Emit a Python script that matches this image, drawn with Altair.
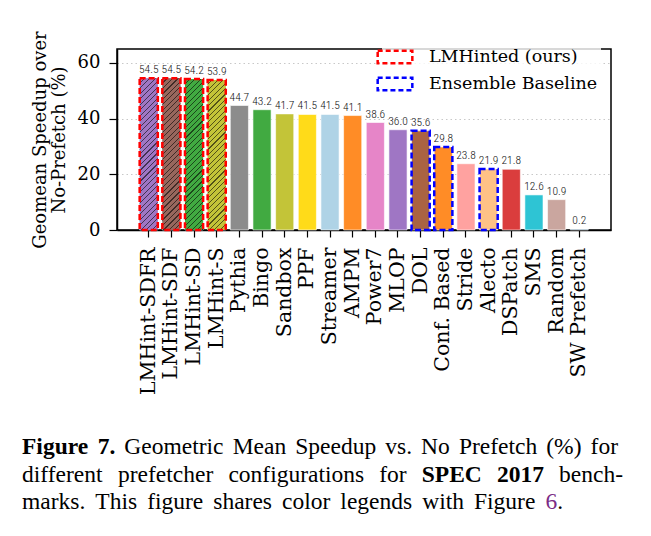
import altair as alt
import pandas as pd

categories = ["LMHint-SDFR", "LMHint-SDF", "LMHint-SD", "LMHint-S", "Pythia", "Bingo",
              "Sandbox", "PPF", "Streamer", "AMPM", "Power7", "MLOP", "DOL",
              "Conf. Based", "Stride", "Alecto", "DSPatch", "SMS", "Random", "SW Prefetch"]
values = [54.5, 54.5, 54.2, 53.9, 44.7, 43.2, 41.7, 41.5, 41.5, 41.1, 38.6, 36.0, 35.6,
          29.8, 23.8, 21.9, 21.8, 12.6, 10.9, 0.2]
base_colors = ["#9467bd", "#8c564b", "#2ca02c", "#bcbd22", "#7f7f7f", "#2ca02c",
               "#bcbd22", "#ffd700", "#a6cee3", "#ff7f0e", "#e377c2", "#9467bd", "#a0522d",
               "#ff7f0e", "#ff9896", "#ffbb78", "#d62728", "#17becf", "#c49c94", "#1f77b4"]
groups = ["LMHinted (ours)"] * 4 + [""] * 8 + ["Ensemble Baseline", "Ensemble Baseline", "", "Ensemble Baseline", "", "", "", ""]
hatched = ["LMHint-SDFR", "LMHint-SDF", "LMHint-SD", "LMHint-S"]
legend_labels = ["LMHinted (ours)", "Ensemble Baseline"]
legend_colors = ["#ff0000", "#0000ff"]
y_ticks = [0, 20, 40, 60]

# caption lines: list of (word, weight, colour); "+" prefix means glued to previous word
caption_lines = [
    [("Figure", "bold", "black"), ("7.", "bold", "black"), ("Geometric", "normal", "black"),
     ("Mean", "normal", "black"), ("Speedup", "normal", "black"), ("vs.", "normal", "black"),
     ("No", "normal", "black"), ("Prefetch", "normal", "black"), ("(%)", "normal", "black"),
     ("for", "normal", "black")],
    [("different", "normal", "black"), ("prefetcher", "normal", "black"),
     ("configurations", "normal", "black"), ("for", "normal", "black"),
     ("SPEC", "bold", "black"), ("2017", "bold", "black"), ("bench-", "normal", "black")],
    [("marks.", "normal", "black"), ("This", "normal", "black"), ("figure", "normal", "black"),
     ("shares", "normal", "black"), ("color", "normal", "black"), ("legends", "normal", "black"),
     ("with", "normal", "black"), ("Figure", "normal", "black"), ("6", "normal", "#7b2c86"),
     ("+.", "normal", "black")],
]


def blend(hexcol, alpha=0.9, bg=(255, 255, 255)):
    h = hexcol.lstrip("#")
    rgb = [int(h[i:i + 2], 16) for i in (0, 2, 4)]
    out = [round(alpha * c + (1 - alpha) * b) for c, b in zip(rgb, bg)]
    return "#" + "".join(f"{c:02x}" for c in out)


def darken(hexcol, f=0.45):
    h = hexcol.lstrip("#")
    rgb = [int(h[i:i + 2], 16) for i in (0, 2, 4)]
    return "#" + "".join(f"{round(c * f):02x}" for c in rgb)


# Times metrics (per 1000 em) for justified caption layout
_reg = {"a": 444, "b": 500, "c": 444, "d": 500, "e": 444, "f": 333, "g": 500, "h": 500, "i": 278,
        "j": 278, "k": 500, "l": 278, "m": 778, "n": 500, "o": 500, "p": 500, "q": 500, "r": 333,
        "s": 389, "t": 278, "u": 500, "v": 500, "w": 722, "x": 500, "y": 500, "z": 444,
        "F": 556, "G": 722, "M": 889, "N": 722, "P": 556, "T": 611, "S": 556, "E": 611, "C": 667,
        ".": 250, "(": 333, ")": 333, "%": 833, "-": 333}
_bold = {"F": 611, "i": 278, "g": 500, "u": 556, "r": 444, "e": 444, ".": 250, "S": 556,
         "P": 611, "E": 667, "C": 722}


def text_width(word, weight, size):
    table = _bold if weight == "bold" else _reg
    return sum(table.get(ch, 500) for ch in word) * size / 1000.0


colors = [blend(c) for c in base_colors]

W, H = 494, 181
YMAX = 65.0
LEFT, TOP = 117, 49

df = pd.DataFrame({"cat": categories, "val": values, "grp": groups,
                   "label": [f"{v:.1f}" for v in values]})

xenc = alt.X("cat:N", sort=categories,
             scale=alt.Scale(domain=categories, paddingInner=0.2, paddingOuter=1.0, align=0.5),
             axis=alt.Axis(title=None, labelAngle=-90, labelAlign="right", labelBaseline="middle",
                           labelFont="DejaVu Serif", labelFontSize=20.5, labelColor="black",
                           labelPadding=10, tickColor="black", tickSize=7, tickWidth=1.2,
                           domainColor="black", domainWidth=1.5, grid=False))
yscale = alt.Scale(domain=[0, YMAX], nice=False, zero=True)
yenc = alt.Y("val:Q", scale=yscale,
             axis=alt.Axis(values=y_ticks, title=["Geomean Speedup over", "No-Prefetch (%)"],
                           titleFont="DejaVu Serif", titleFontSize=18, titleFontWeight="normal",
                           titleColor="black", titleX=-68, titleY=H / 2, titleLineHeight=19,
                           labelFont="DejaVu Serif", labelFontSize=18, labelColor="black",
                           labelPadding=9, tickColor="black", tickSize=8, tickWidth=1.2,
                           domainColor="black", domainWidth=1.5,
                           grid=True, gridColor="#c8c8c8", gridDash=[1.5, 3], gridWidth=1))

base = alt.Chart(df).encode(x=xenc)

bars = base.mark_bar(stroke="white", strokeWidth=0.6).encode(
    y=yenc,
    color=alt.Color("cat:N", scale=alt.Scale(domain=categories, range=colors), legend=None),
)

layers = [bars]

# hatched overlays using linear gradients
px_per_unit = H / YMAX
bw = W / (20 - 0.2 + 2.0) * 0.8
for cat in hatched:
    i = categories.index(cat)
    h = values[i] * px_per_unit
    w = bw
    a0, b0 = 1 / h, 1 / w
    s = (a0 + b0) / (a0 * a0 + b0 * b0)
    x2, y2 = s * a0, s * b0
    n_lines = int(round((w + h) / 5.5))
    lw = 0.8 / (w + h) * 1.4142
    basec = colors[i]
    dark = darken(basec, 0.42)
    stops = []
    for k in range(n_lines):
        t0 = k / n_lines
        t1 = (k + 1) / n_lines
        stops += [{"offset": t0, "color": basec},
                  {"offset": max(t0, t1 - lw), "color": basec},
                  {"offset": max(t0, t1 - lw), "color": dark},
                  {"offset": t1, "color": dark}]
    grad = {"gradient": "linear", "x1": 0, "y1": 0, "x2": x2, "y2": y2, "stops": stops}
    layers.append(
        base.mark_bar(fill=grad, stroke=None).encode(y=alt.Y("val:Q", scale=yscale))
        .transform_filter(alt.datum.cat == cat)
    )

outline = base.mark_bar(filled=False, strokeWidth=2.5, strokeDash=[6, 3]).encode(
    y=alt.Y("val:Q", scale=yscale),
    stroke=alt.Stroke("grp:N", scale=alt.Scale(domain=legend_labels, range=legend_colors),
                      legend=alt.Legend(title=None, orient="none", legendX=265, legendY=-5,
                                        symbolType="M-2,-0.72H2V0.72H-2Z", symbolSize=300,
                                        symbolStrokeWidth=2.5, symbolDash=[5, 3],
                                        symbolFillColor="transparent", labelFont="DejaVu Serif",
                                        labelFontSize=17.5, labelColor="black", labelOffset=24,
                                        labelLimit=400, rowPadding=3, padding=3,
                                        fillColor="rgba(255,255,255,0.8)")),
).transform_filter(alt.datum.grp != "")
layers.append(outline)

texts = base.mark_text(baseline="bottom", dy=-3,
                       font="'Roboto Condensed', 'DejaVu Sans Condensed', Roboto",
                       fontSize=11.5, fontWeight=300,
                       color="#111111").encode(y=alt.Y("val:Q", scale=yscale), text="label:N")
layers.append(texts)

# caption, justified word by word
cap_font = "Liberation Serif"
cap_size = 23.5
line_left = [22, 22, 22]
line_right = [618, 623, 563]
line_base = [454, 481.5, 509]
for words, L, R, yb in zip(caption_lines, line_left, line_right, line_base):
    toks = []
    for wd, wt, col in words:
        glued = wd.startswith("+")
        wd = wd.lstrip("+")
        toks.append((wd, wt, col, glued, text_width(wd, wt, cap_size)))
    n_gaps = sum(1 for t in toks[1:] if not t[3])
    total = sum(t[4] for t in toks)
    gap = (R - L - total) / max(n_gaps, 1)
    xpos = L
    for j, (wd, wt, col, glued, tw) in enumerate(toks):
        if j > 0 and not glued:
            xpos += gap
        layers.append(
            alt.Chart(pd.DataFrame({"t": [wd]})).mark_text(
                align="left", baseline="alphabetic", font=cap_font, fontSize=cap_size,
                fontWeight=wt, color=col
            ).encode(x=alt.value(xpos - LEFT), y=alt.value(yb - TOP), text="t:N")
        )
        xpos += tw

chart = alt.layer(*layers).properties(
    width=W, height=H,
    autosize=alt.AutoSizeParams(type="none"),
    padding={"left": LEFT, "top": TOP, "right": 651 - LEFT - W, "bottom": 536 - TOP - H},
    background="white",
).configure_view(stroke="black", strokeWidth=1.5)

chart.save("out.html", embed_options={"renderer": "svg", "actions": False})
